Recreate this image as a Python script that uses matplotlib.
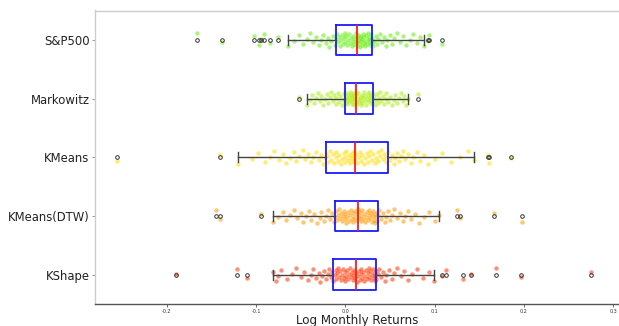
import numpy as np
import matplotlib
matplotlib.use("Agg")
import matplotlib.pyplot as plt

categories = ["S&P500", "Markowitz", "KMeans", "KMeans(DTW)", "KShape"]

sp500 = [-0.166, -0.138, -0.102, -0.097, -0.094, -0.091, -0.085, -0.076,
         -0.064,
         -0.058, -0.052, -0.047, -0.043, -0.040, -0.036, -0.033, -0.030,
         -0.027, -0.025, -0.022, -0.020, -0.018, -0.016, -0.014, -0.012,
         -0.010,
         -0.009, -0.008, -0.007, -0.006, -0.005, -0.004, -0.003, -0.002,
         -0.001, 0.000, 0.001, 0.002, 0.003, 0.004, 0.005, 0.006,
         0.007, 0.008, 0.009, 0.010, 0.011, 0.012, 0.0125, 0.013,
         0.0135,
         0.014, 0.0145, 0.015, 0.016, 0.0165, 0.017, 0.018, 0.0185,
         0.019, 0.020, 0.0205, 0.021, 0.022, 0.0225, 0.023, 0.024,
         0.025, 0.0255, 0.026, 0.027, 0.0275, 0.028, 0.029, 0.0295,
         0.030,
         0.031, 0.032, 0.034, 0.035, 0.037, 0.039, 0.041, 0.043, 0.045,
         0.047, 0.050, 0.052, 0.055, 0.058, 0.061, 0.064, 0.068, 0.072,
         0.076, 0.080, 0.084,
         0.088,
         0.092, 0.094, 0.108]

markowitz = [-0.0515,
             -0.0425,
             -0.040, -0.037, -0.035, -0.033, -0.031, -0.029, -0.027, -0.025,
             -0.023, -0.021, -0.019, -0.017, -0.016, -0.014, -0.013, -0.011,
             -0.010, -0.008, -0.007, -0.006, -0.004, -0.003, -0.002,
             -0.001,
             -0.0005, 0.000, 0.0005, 0.001, 0.0015, 0.002, 0.003, 0.0035,
             0.004, 0.005, 0.0055, 0.006, 0.007, 0.0075, 0.008, 0.0085,
             0.009, 0.0095, 0.010, 0.0105, 0.011, 0.0113, 0.0117, 0.012,
             0.0123,
             0.013, 0.0138, 0.0145, 0.015, 0.016, 0.017, 0.0178, 0.0185,
             0.019, 0.020, 0.021, 0.0218, 0.0225, 0.023, 0.024, 0.025,
             0.026, 0.0265, 0.027, 0.028, 0.0288, 0.0295, 0.030, 0.0305,
             0.031,
             0.032, 0.033, 0.034, 0.035, 0.036, 0.038, 0.039, 0.040, 0.042,
             0.043, 0.045, 0.046, 0.048, 0.050, 0.052, 0.054, 0.056, 0.058,
             0.060, 0.062, 0.064, 0.066, 0.068,
             0.0706,
             0.081]

kmeans = [-0.2555, -0.140,
          -0.120,
          -0.105, -0.098, -0.090, -0.085, -0.080, -0.074, -0.070, -0.066,
          -0.062, -0.058, -0.055, -0.052, -0.048, -0.045, -0.042, -0.039,
          -0.036, -0.033, -0.030, -0.027, -0.025, -0.023,
          -0.0213,
          -0.020, -0.019, -0.017, -0.016, -0.014, -0.013, -0.011, -0.010,
          -0.008, -0.007, -0.005, -0.004, -0.002, -0.001, 0.000, 0.001,
          0.003, 0.004, 0.005, 0.006, 0.007, 0.008, 0.009, 0.010,
          0.0112,
          0.012, 0.013, 0.015, 0.016, 0.018, 0.019, 0.021, 0.022,
          0.024, 0.025, 0.027, 0.028, 0.030, 0.031, 0.033, 0.034,
          0.036, 0.037, 0.039, 0.040, 0.042, 0.043, 0.045, 0.046,
          0.048,
          0.050, 0.052, 0.054, 0.056, 0.058, 0.060, 0.062, 0.065, 0.067,
          0.070, 0.073, 0.076, 0.080, 0.084, 0.088, 0.093, 0.100, 0.108,
          0.118, 0.128, 0.137,
          0.1445,
          0.160, 0.161, 0.185]

kmeans_dtw = [-0.1445, -0.141, -0.094,
              -0.0806,
              -0.075, -0.070, -0.066, -0.062, -0.058, -0.054, -0.050, -0.047,
              -0.044, -0.041, -0.038, -0.035, -0.032, -0.029, -0.027, -0.024,
              -0.022, -0.019, -0.017, -0.015, -0.013,
              -0.0112,
              -0.010, -0.009, -0.008, -0.007, -0.006, -0.005, -0.004, -0.003,
              -0.002, -0.001, 0.000, 0.001, 0.002, 0.003, 0.004, 0.005,
              0.006, 0.007, 0.008, 0.009, 0.010, 0.011, 0.012, 0.013,
              0.0146,
              0.015, 0.016, 0.017, 0.018, 0.019, 0.020, 0.021, 0.022,
              0.023, 0.024, 0.025, 0.026, 0.027, 0.028, 0.029, 0.030,
              0.0305, 0.031, 0.032, 0.033, 0.0335, 0.034, 0.035, 0.0355,
              0.036,
              0.038, 0.040, 0.042, 0.044, 0.046, 0.048, 0.050, 0.052, 0.055,
              0.058, 0.061, 0.064, 0.067, 0.070, 0.074, 0.078, 0.083, 0.088,
              0.094, 0.100,
              0.105,
              0.1254, 0.1288, 0.167, 0.198]

kshape = [-0.190, -0.121, -0.110,
          -0.0806,
          -0.078, -0.076, -0.072, -0.065, -0.060, -0.055, -0.050, -0.046,
          -0.042, -0.039, -0.036, -0.033, -0.030, -0.028, -0.026, -0.024,
          -0.022, -0.020, -0.018, -0.016, -0.015,
          -0.0134,
          -0.012, -0.011, -0.010, -0.009, -0.008, -0.007, -0.006, -0.005,
          -0.004, -0.003, -0.002, -0.001, 0.000, 0.001, 0.002, 0.003,
          0.004, 0.005, 0.006, 0.007, 0.008, 0.009, 0.010, 0.011,
          0.0123,
          0.013, 0.014, 0.015, 0.016, 0.017, 0.018, 0.019, 0.020,
          0.021, 0.022, 0.023, 0.024, 0.025, 0.026, 0.027, 0.028,
          0.029, 0.030, 0.031, 0.0315, 0.032, 0.033, 0.0335, 0.034,
          0.0347,
          0.036, 0.038, 0.040, 0.042, 0.044, 0.046, 0.049, 0.052, 0.055,
          0.058, 0.062, 0.066, 0.070, 0.075, 0.080, 0.087, 0.094,
          0.0997,
          0.1085, 0.113, 0.132, 0.141, 0.169, 0.197, 0.2755]

series = [sp500, markowitz, kmeans, kmeans_dtw, kshape]
colors = ["#66ee11", "#aaee11", "#ffdd00", "#ff9900", "#ff3300"]
xticks = [-0.2, -0.1, 0.0, 0.1, 0.2, 0.3]
xtick_labels = ["-0.2", "-0.1", "0.0", "0.1", "0.2", "0.3"]

W, H = 619, 326
fig = plt.figure(figsize=(W / 100, H / 100), dpi=100)
ax = fig.add_axes([95 / W, (H - 304) / H, (W - 95) / W, (304 - 10.5) / H])

# strip points with deterministic jitter
for i, (vals, c) in enumerate(zip(series, colors)):
    vals = np.asarray(vals)
    n = len(vals)
    jit = (((np.arange(n) * 0.6180339887 + i * 0.37) % 1.0) - 0.5) * 0.24
    ax.scatter(vals, i + jit, s=10, color=c, alpha=0.55, linewidths=0, zorder=2)

bp = ax.boxplot(series, positions=range(len(series)), vert=False, widths=0.52,
                patch_artist=False, capwidths=0.17, zorder=3,
                boxprops=dict(color="#1a1aff", linewidth=1.3),
                medianprops=dict(color="#ff1a1a", linewidth=1.3),
                whiskerprops=dict(color="#444444", linewidth=1.0),
                capprops=dict(color="#444444", linewidth=1.0),
                flierprops=dict(marker="o", markersize=2.6, markerfacecolor="none",
                                markeredgecolor="#333333", markeredgewidth=0.7))

ax.set_ylim(4.5, -0.5)
ax.set_xlim(-0.2805, 0.3065)
ax.set_yticks(range(len(categories)))
ax.set_yticklabels(categories, fontsize=8.4, color="#222222")
ax.set_xticks(xticks)
ax.set_xticklabels(xtick_labels, fontsize=3.5, color="#333333")
ax.tick_params(axis="y", length=2, width=0.6, color="#888888", pad=2)
ax.tick_params(axis="x", length=2, width=0.6, color="#555555", pad=1.5)
ax.set_xlabel("Log Monthly Returns", fontsize=8.6, color="#222222", labelpad=0)

for side in ["left", "top"]:
    ax.spines[side].set_color("#cccccc")
    ax.spines[side].set_linewidth(1.0)
ax.spines["bottom"].set_color("#555555")
ax.spines["bottom"].set_linewidth(1.0)
ax.spines["right"].set_visible(False)

fig.savefig("out.png", dpi=100)
